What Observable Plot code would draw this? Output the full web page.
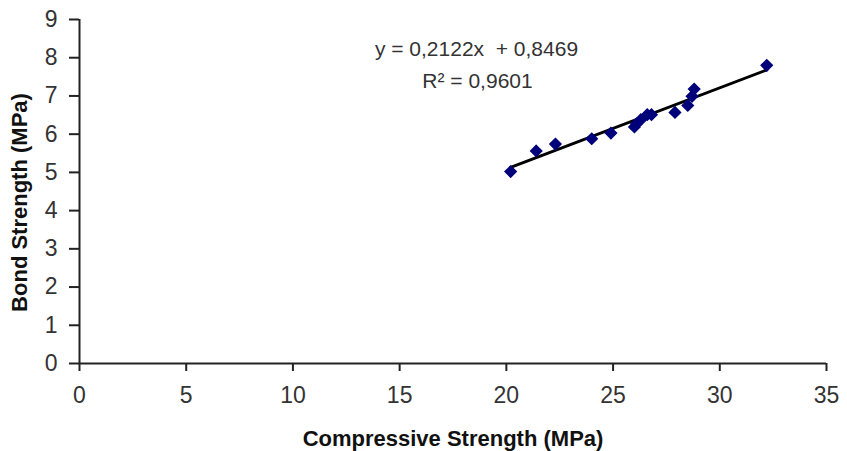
<!DOCTYPE html>
<html>
<head>
<meta charset="utf-8">
<script src="https://cdn.jsdelivr.net/npm/d3@7"></script>
<script src="https://cdn.jsdelivr.net/npm/@observablehq/plot@0.6"></script>
<style>
  html, body { margin: 0; padding: 0; background: #fff; }
  #chart svg { display: block; }
</style>
</head>
<body>
<div id="chart"></div>
<script>
// Data
const compressive = [20.2, 21.4, 22.3, 24.0, 24.9, 26.0, 26.1, 26.3, 26.6, 26.8, 27.9, 28.5, 28.7, 28.8, 32.2];
const bond        = [5.02, 5.56, 5.74, 5.88, 6.03, 6.19, 6.27, 6.38, 6.51, 6.51, 6.57, 6.75, 6.99, 7.18, 7.80];
const slope = 0.2122;
const intercept = 0.8469;
const equationLines = ["y = 0,2122x  + 0,8469", "R\u00B2 = 0,9601"];
const xTicks = [0, 5, 10, 15, 20, 25, 30, 35];
const yTicks = [0, 1, 2, 3, 4, 5, 6, 7, 8, 9];
const xTitle = "Compressive Strength (MPa)";
const yTitle = "Bond Strength (MPa)";

const points = compressive.map((c, i) => ({x: c, y: bond[i]}));
const [xmin, xmax] = d3.extent(compressive);
const trend = [xmin, xmax].map(x => ({x, y: slope * x + intercept}));

const fontFamily = "'Liberation Sans', Arial, sans-serif";
const axisColor = "#222";

const chart = Plot.plot({
  width: 847,
  height: 451,
  marginLeft: 79,
  marginRight: 21,
  marginTop: 19,
  marginBottom: 88,
  style: {fontFamily, fontSize: "23px", color: "#333", background: "#fff"},
  x: {domain: [0, 35]},
  y: {domain: [0, 9]},
  marks: [
    Plot.ruleY([0], {stroke: axisColor, strokeWidth: 2}),
    Plot.ruleX([0], {stroke: axisColor, strokeWidth: 2}),
    Plot.axisX({ticks: xTicks, tickSize: 8, tickPadding: 15, tickFormat: d => String(d), stroke: axisColor, strokeWidth: 2, label: null, fontSize: 23, fill: "#333"}),
    Plot.axisY({ticks: yTicks, tickSize: 10, tickPadding: 12, tickFormat: d => String(d), stroke: axisColor, strokeWidth: 2, label: null, fontSize: 23, fill: "#333"}),
    Plot.line(trend, {x: "x", y: "y", stroke: "#000", strokeWidth: 3}),
    Plot.dot(points, {x: "x", y: "y", symbol: "diamond2", r: 5, fill: "#00007a", stroke: "#00007a", strokeWidth: 1.5}),
    Plot.text([equationLines[0]], {frameAnchor: "top-left", lineAnchor: "middle", dx: 397, dy: 30, text: d => d, textAnchor: "middle", fontSize: 21, fill: "#333"}),
    Plot.text([equationLines[1]], {frameAnchor: "top-left", lineAnchor: "middle", dx: 398, dy: 62, text: d => d, textAnchor: "middle", fontSize: 21, fill: "#333"}),
    Plot.text([xTitle], {frameAnchor: "bottom", lineAnchor: "middle", dy: 75, text: d => d, textAnchor: "middle", fontSize: 22, fontWeight: "bold", fill: "#111"}),
    Plot.text([yTitle], {frameAnchor: "left", lineAnchor: "middle", dx: -60, dy: 11, rotate: -90, text: d => d, textAnchor: "middle", fontSize: 22, fontWeight: "bold", fill: "#111"})
  ]
});
document.getElementById("chart").appendChild(chart);
</script>
</body>
</html>
